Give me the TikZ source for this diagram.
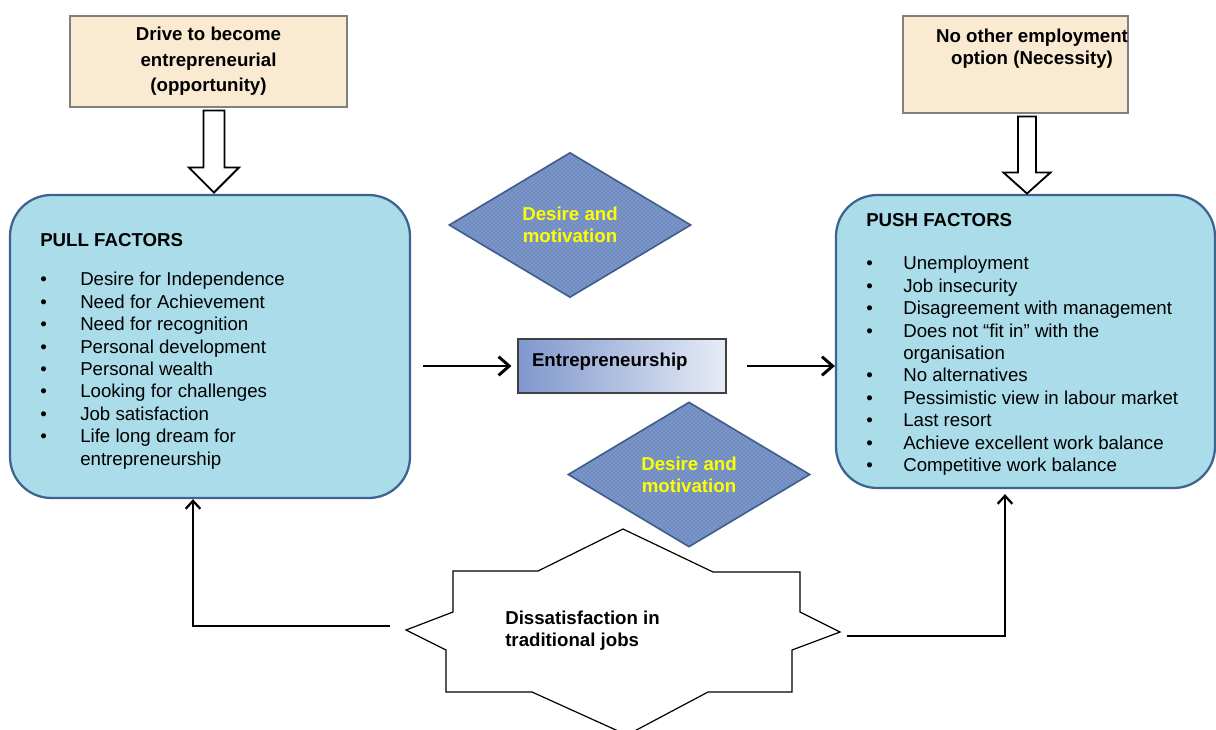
\documentclass[tikz,border=0pt]{standalone}
\usepackage{fontspec}
\setmainfont{Liberation Sans}
\usetikzlibrary{positioning,shapes.geometric,arrows.meta,calc,patterns}

\definecolor{drivefill}{HTML}{F9EAD1}
\definecolor{boxgray}{HTML}{808080}
\definecolor{factorfill}{HTML}{AADCE9}
\definecolor{factorline}{HTML}{3F6391}
\definecolor{diafill}{HTML}{6F8BC0}
\definecolor{dialine}{HTML}{3E5C8C}
\definecolor{diadots}{HTML}{A9BCE0}
\definecolor{entreleft}{HTML}{7F97CD}
\definecolor{entreright}{HTML}{E7ECF7}
\definecolor{desireyellow}{HTML}{FFFF00}

\tikzset{
  boldtext/.style={font=\bfseries\fontsize{14}{16.5}\selectfont},
  listtext/.style={font=\fontsize{14}{16.8}\selectfont},
  drivebox/.style={draw=boxgray, fill=drivefill, line width=0.8pt,
    minimum width=207.75pt, minimum height=68.25pt, align=center,
    font=\bfseries\fontsize{14}{19}\selectfont},
  factorbox/.style={draw=factorline, fill=factorfill, line width=1.7pt, rounded corners=31pt},
  hollowarrow/.style={draw=black, fill=white, line width=1.4pt, line join=miter},
  desire/.style={diamond, draw=dialine, line width=1.2pt, preaction={fill=diafill},
    pattern=crosshatch dots, pattern color=diadots, aspect=1.67,
    minimum width=181.5pt, minimum height=108.75pt, align=center,
    text=desireyellow, font=\bfseries\fontsize{14}{16.5}\selectfont},
  entrebox/.style={draw=black!75, line width=0.8pt, left color=entreleft, right color=entreright,
    minimum width=156pt, minimum height=40.5pt, text width=135pt, inner xsep=10.5pt,
    align=left, text depth=9pt, font=\bfseries\fontsize{14}{16.5}\selectfont},
  flowarrow/.style={line width=2.2pt, -{Straight Barb[length=8pt,width=14pt]}},
  backarrow/.style={line width=1.7pt, -{Straight Barb[length=6pt,width=11pt]}},
  starline/.style={draw=black, fill=white, line width=0.9pt}
}

\begin{document}
\begin{tikzpicture}[x=0.75pt, y=-0.75pt, every node/.style={inner sep=0pt}]
  \useasboundingbox (0,0) rectangle (1216,729);

  % top boxes
  \node[drivebox] (opp) at (208.5,61.5) {Drive to become\\entrepreneurial\\(opportunity)};
  \node[drivebox, minimum width=168.75pt, minimum height=72.75pt] (nec) at (1015.5,64.5) {};
  \node[boldtext, align=center] (nectext) at (1032,48.5) {No other employment\\option (Necessity)};

  % pull and push factors
  \node[factorbox, minimum width=300pt, minimum height=227.25pt] (pull) at (210,346.5) {};
  \node[boldtext, anchor=west] (pulltitle) at (40,240) {PULL FACTORS};
  \node[listtext, anchor=north west] (pulllist) at (40,270) {%
    \begin{tabular}{@{}p{30pt}@{}l@{}}
      \textbullet & Desire for Independence\\
      \textbullet & Need for Achievement\\
      \textbullet & Need for recognition\\
      \textbullet & Personal development\\
      \textbullet & Personal wealth\\
      \textbullet & Looking\ for challenges\\
      \textbullet & Job satisfaction\\
      \textbullet & Life long\ dream\ for\\
                  & entrepreneurship
    \end{tabular}};

  \node[factorbox, minimum width=284.25pt, minimum height=219.75pt] (push) at (1025.5,341.5) {};
  \node[boldtext, anchor=west] (pushtitle) at (866,220) {PUSH FACTORS};
  \node[listtext, anchor=north west] (pushlist) at (866,254) {%
    \begin{tabular}{@{}p{27.75pt}@{}l@{}}
      \textbullet & Unemployment\\
      \textbullet & Job insecurity\\
      \textbullet & Disagreement with\ management\\
      \textbullet & Does not “fit in” with\ the\\
                  & organisation\\
      \textbullet & No alternatives\\
      \textbullet & Pessimistic view in labour market\\
      \textbullet & Last resort\\
      \textbullet & Achieve excellent work balance\\
      \textbullet & Competitive work balance
    \end{tabular}};

  % hollow arrows
  \draw[hollowarrow] ([xshift=4.1pt]opp.south) +(-10.5,3) -- +(-10.5,60) -- +(-25,60) -- +(0,85)
    -- +(25,60) -- +(10.5,60) -- +(10.5,3) -- cycle;
  \draw[hollowarrow] ([xshift=8.6pt]nec.south) +(-9,3) -- +(-9,59) -- +(-23.5,59) -- +(0,80)
    -- +(23.5,59) -- +(9,59) -- +(9,3) -- cycle;

  % centre
  \node[desire] (desire1) at (570,225) {Desire and\\motivation};
  \node[entrebox] (entre) at (622,366) {Entrepreneurship};
  \draw[flowarrow] ([xshift=9pt]pull.east |- entre.west) -- ([xshift=-4.5pt]entre.west);
  \draw[flowarrow] ([xshift=15pt]entre.east) -- (push.west |- entre.east);

  % dissatisfaction star
  \draw[starline] (453,571) -- (538,571) -- (623,529) -- (713,572) -- (800,572) -- (800,612)
    -- (840,632) -- (792,650) -- (792,692) -- (708,692) -- (627,735) -- (532,692)
    -- (446,692) -- (446,650) -- (406,630) -- (453,612) -- cycle;
  \node[boldtext, align=left, anchor=west] (dissat) at (505,631) {Dissatisfaction in\\traditional jobs};
  \node[desire] (desire2) at (689,474.5) {Desire and\\motivation};

  % feedback
  \coordinate (starleft) at (390,626);
  \coordinate (starright) at (847,636);
  \draw[backarrow] (starleft) -| ([xshift=-12.75pt]pull.south);
  \draw[backarrow] (starright) -| ([xshift=-15.4pt, yshift=-3.75pt]push.south);
\end{tikzpicture}
\end{document}
